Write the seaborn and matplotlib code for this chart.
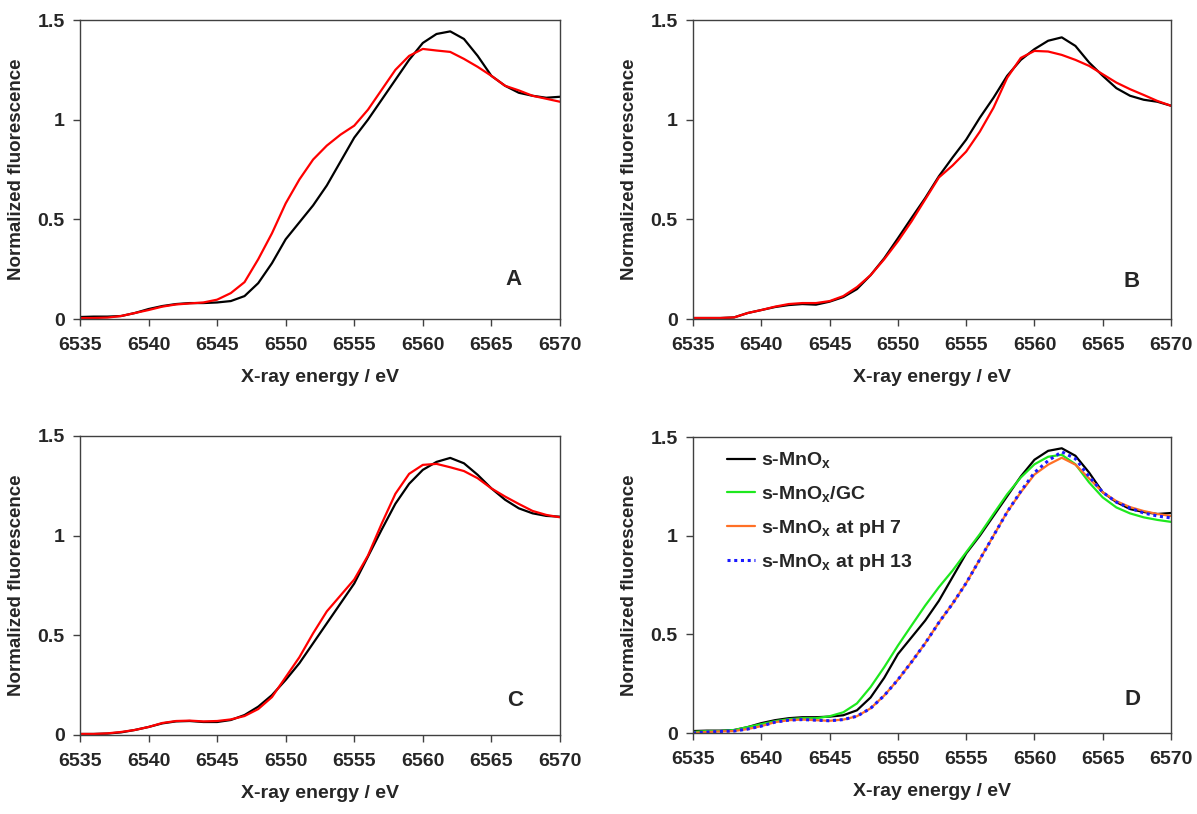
import numpy as np
import pandas as pd
import matplotlib
matplotlib.use("Agg")
import matplotlib.pyplot as plt
import seaborn as sns

# X-ray energy grid (eV)
energy = [6535, 6536, 6537, 6538, 6539, 6540, 6541, 6542, 6543, 6544, 6545, 6546,
          6547, 6548, 6549, 6550, 6551, 6552, 6553, 6554, 6555, 6556, 6557, 6558,
          6559, 6560, 6561, 6562, 6563, 6564, 6565, 6566, 6567, 6568, 6569, 6570]

# Panel A
a_black = [0.01, 0.012, 0.012, 0.015, 0.03, 0.05, 0.065, 0.075, 0.08, 0.08, 0.083, 0.09,
           0.115, 0.18, 0.28, 0.40, 0.485, 0.57, 0.67, 0.79, 0.91, 1.0, 1.1, 1.2,
           1.3, 1.385, 1.43, 1.443, 1.405, 1.32, 1.22, 1.17, 1.135, 1.12, 1.11, 1.115]
a_red = [0.005, 0.005, 0.007, 0.015, 0.03, 0.045, 0.062, 0.073, 0.078, 0.083, 0.097, 0.13,
         0.185, 0.30, 0.43, 0.58, 0.70, 0.80, 0.87, 0.925, 0.97, 1.05, 1.15, 1.25,
         1.32, 1.355, 1.347, 1.34, 1.305, 1.265, 1.22, 1.17, 1.147, 1.12, 1.105, 1.09]

# Panel B
b_black = [0.005, 0.005, 0.005, 0.008, 0.03, 0.045, 0.06, 0.07, 0.075, 0.072, 0.087, 0.11,
           0.15, 0.22, 0.305, 0.405, 0.507, 0.607, 0.716, 0.81, 0.90, 1.01, 1.11, 1.22,
           1.30, 1.354, 1.396, 1.413, 1.37, 1.287, 1.22, 1.158, 1.12, 1.10, 1.09, 1.07]
b_red = [0.005, 0.005, 0.005, 0.008, 0.03, 0.045, 0.062, 0.075, 0.08, 0.08, 0.09, 0.115,
         0.16, 0.22, 0.30, 0.39, 0.49, 0.60, 0.71, 0.77, 0.84, 0.94, 1.06, 1.21,
         1.31, 1.345, 1.342, 1.325, 1.30, 1.27, 1.228, 1.186, 1.153, 1.124, 1.094, 1.07]

# Panel C
c_black = [0.005, 0.005, 0.007, 0.013, 0.025, 0.04, 0.058, 0.068, 0.07, 0.065, 0.065, 0.075,
           0.10, 0.142, 0.20, 0.276, 0.36, 0.46, 0.56, 0.66, 0.76, 0.895, 1.03, 1.16,
           1.26, 1.33, 1.37, 1.39, 1.363, 1.305, 1.237, 1.18, 1.137, 1.112, 1.099, 1.095]
c_red = [0.005, 0.005, 0.008, 0.015, 0.025, 0.04, 0.06, 0.07, 0.072, 0.068, 0.07, 0.078,
         0.095, 0.13, 0.19, 0.29, 0.39, 0.51, 0.62, 0.70, 0.78, 0.90, 1.06, 1.21,
         1.31, 1.355, 1.36, 1.343, 1.324, 1.288, 1.237, 1.196, 1.159, 1.124, 1.104, 1.092]

# Panel D
d_smnox = a_black
d_gc = [0.005, 0.01, 0.01, 0.015, 0.03, 0.045, 0.06, 0.07, 0.075, 0.075, 0.085, 0.105,
        0.15, 0.233, 0.334, 0.443, 0.545, 0.646, 0.739, 0.823, 0.916, 1.008, 1.11, 1.21,
        1.295, 1.362, 1.40, 1.41, 1.362, 1.27, 1.194, 1.143, 1.113, 1.093, 1.08, 1.07]
d_ph7 = [0.0, 0.005, 0.008, 0.01, 0.02, 0.035, 0.055, 0.065, 0.068, 0.065, 0.062, 0.068,
         0.085, 0.125, 0.19, 0.27, 0.36, 0.455, 0.56, 0.655, 0.76, 0.88, 1.0, 1.12,
         1.22, 1.31, 1.36, 1.395, 1.36, 1.29, 1.22, 1.175, 1.145, 1.125, 1.11, 1.10]
d_ph13 = [0.0, 0.005, 0.008, 0.01, 0.02, 0.035, 0.055, 0.065, 0.068, 0.065, 0.062, 0.068,
          0.085, 0.125, 0.19, 0.27, 0.36, 0.455, 0.56, 0.655, 0.76, 0.88, 1.0, 1.12,
          1.225, 1.32, 1.38, 1.425, 1.39, 1.30, 1.22, 1.17, 1.14, 1.115, 1.10, 1.09]

x_ticks = [6535, 6540, 6545, 6550, 6555, 6560, 6565, 6570]
y_ticks = [0, 0.5, 1, 1.5]
y_tick_labels = ["0", "0.5", "1", "1.5"]
panel_letters = ["A", "B", "C", "D"]
legend_labels = [r"s-MnO$_\mathrm{x}$", r"s-MnO$_\mathrm{x}$/GC",
                 r"s-MnO$_\mathrm{x}$ at pH 7", r"s-MnO$_\mathrm{x}$ at pH 13"]

sns.set_theme(style="ticks")
plt.rcParams["font.family"] = ["Liberation Sans", "DejaVu Sans"]
plt.rcParams["font.weight"] = "bold"
plt.rcParams["mathtext.fontset"] = "custom"
plt.rcParams["mathtext.rm"] = "Liberation Sans:bold"
plt.rcParams["mathtext.it"] = "Liberation Sans:bold"
plt.rcParams["mathtext.bf"] = "Liberation Sans:bold"

FS = 14

fig = plt.figure(figsize=(11.97, 8.14), dpi=100)
positions = [
    [0.0668, 0.6081, 0.401, 0.3673],
    [0.579, 0.6081, 0.3993, 0.3673],
    [0.0668, 0.0971, 0.401, 0.3673],
    [0.579, 0.0995, 0.3993, 0.3636],
]
axes = [fig.add_axes(p) for p in positions]

LW = 1.6
pairs = [(a_black, a_red), (b_black, b_red), (c_black, c_red)]
for ax, (blk, red) in zip(axes[:3], pairs):
    df = pd.DataFrame({"energy": energy, "black": blk, "red": red})
    sns.lineplot(data=df, x="energy", y="black", ax=ax, color="black", lw=LW)
    sns.lineplot(data=df, x="energy", y="red", ax=ax, color="#ff0000", lw=LW)

axD = axes[3]
dfd = pd.DataFrame({"energy": energy, "smnox": d_smnox, "gc": d_gc,
                    "ph7": d_ph7, "ph13": d_ph13})
sns.lineplot(data=dfd, x="energy", y="smnox", ax=axD, color="black", lw=LW,
             label=legend_labels[0])
sns.lineplot(data=dfd, x="energy", y="gc", ax=axD, color="#1ee81e", lw=LW,
             label=legend_labels[1])
sns.lineplot(data=dfd, x="energy", y="ph7", ax=axD, color="#ff7026", lw=LW,
             label=legend_labels[2])
sns.lineplot(data=dfd, x="energy", y="ph13", ax=axD, color="#1a1aff", lw=2.2,
             linestyle=(0, (1, 1.2)), label=legend_labels[3])
leg = axD.legend(loc="upper left", bbox_to_anchor=(0.07, 0.955), frameon=False,
                 borderaxespad=0, borderpad=0, handlelength=1.45, handletextpad=0.3,
                 labelspacing=0.7, prop={"size": FS, "weight": "bold"})

letter_pos = [(6566.6, 0.2), (6567.1, 0.19), (6566.7, 0.175), (6567.2, 0.17)]
for ax, letter, (lx, ly) in zip(axes, panel_letters, letter_pos):
    ax.set_xlim(6535, 6570)
    ax.set_ylim(0, 1.5)
    ax.set_xticks(x_ticks)
    ax.set_xticklabels([str(t) for t in x_ticks], fontsize=FS, fontweight="bold")
    ax.set_yticks(y_ticks)
    ax.set_yticklabels(y_tick_labels, fontsize=FS, fontweight="bold")
    ax.tick_params(axis="both", direction="out", length=5, width=1, color="#404040",
                   pad=6)
    ax.tick_params(axis="x", pad=8)
    for sp in ax.spines.values():
        sp.set_visible(True)
        sp.set_color("#404040")
        sp.set_linewidth(1.0)
    ax.set_xlabel("X-ray energy / eV", fontsize=FS, fontweight="bold", labelpad=11)
    ax.set_ylabel("Normalized fluorescence", fontsize=13.5, fontweight="bold", labelpad=9)
    ax.text(lx, ly, letter, fontsize=16, fontweight="bold", ha="center", va="center")
    ax.grid(False)

fig.savefig("out.png", dpi=100, facecolor="white")
